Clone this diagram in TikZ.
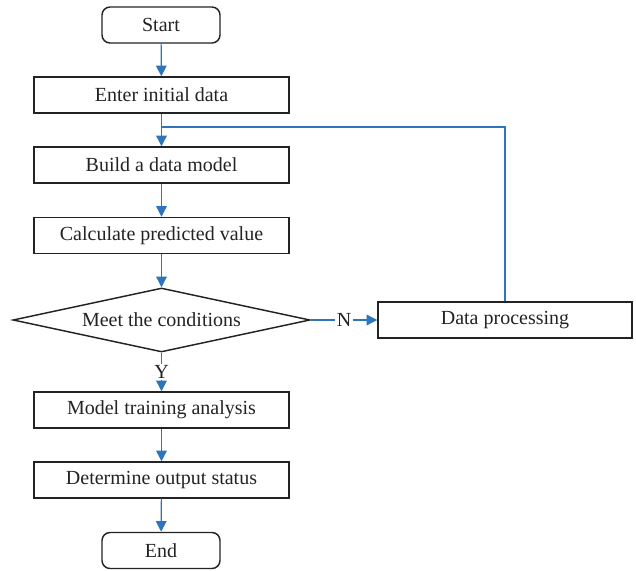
\documentclass[tikz,border=0pt]{standalone}
\usepackage{fontspec}
\setmainfont{Liberation Serif}
\usetikzlibrary{arrows.meta,shapes.geometric}
\definecolor{flowblue}{RGB}{46,117,190}
\definecolor{boxgray}{RGB}{35,35,35}
\tikzset{
  stepbox/.style={draw=boxgray, text=boxgray, line width=1.1pt, minimum width=191.25pt, minimum height=27pt, inner sep=0pt, font=\fontsize{15}{17}\selectfont},
  termbox/.style={stepbox, rounded corners=6pt, minimum width=88.5pt},
  decide/.style={draw=boxgray, text=boxgray, line width=1.1pt, diamond, aspect=4.64, minimum width=222.75pt, minimum height=48pt, inner sep=0pt, font=\fontsize{15}{17}\selectfont},
  flow/.style={flowblue, line width=0.9pt, -{Triangle[width=8pt,length=8pt]}},
  flowline/.style={flowblue, line width=0.9pt},
  answer/.style={fill=white, text=boxgray, inner sep=1pt, font=\fontsize{15}{17}\selectfont}
}
\begin{document}
\begin{tikzpicture}[x=0.75pt, y=-0.75pt]
      \useasboundingbox (0,0) rectangle (636,571);
      %
      \node [termbox] (start) at (161, 25) {Start};
      \node [stepbox] (enter) at (161.5, 95) {Enter initial data};
      \node [stepbox] (build) at (161.5, 165) {Build a data model};
      \node [stepbox] (calc) at (161.5, 235.5) {Calculate predicted value};
      \node [decide] (meet) at (161.5, 320) {Meet the conditions};
      \node [stepbox, minimum width=190.5pt] (proc) at (505, 320) {Data processing};
      \node [stepbox] (train) at (161.5, 410) {Model training analysis};
      \node [stepbox] (status) at (161.5, 480) {Determine output status};
      \node [termbox] (end) at (161, 550.5) {End};
      %
      \coordinate (join) at (161.5, 127);
      %
      \draw [flow] (start) -- (enter);
      \draw [flow] (enter) -- (build);
      \draw [flow] (build) -- (calc);
      \draw [flow] (calc) -- (meet);
      \draw [flow] (meet) -- node [answer] {N} (proc);
      \draw [flow] (meet) -- node [answer] {Y} (train);
      \draw [flow] (train) -- (status);
      \draw [flow] (status) -- (end);
      %
      \draw [flowline] (proc.north) |- (join);
      %
\end{tikzpicture}
\end{document}
